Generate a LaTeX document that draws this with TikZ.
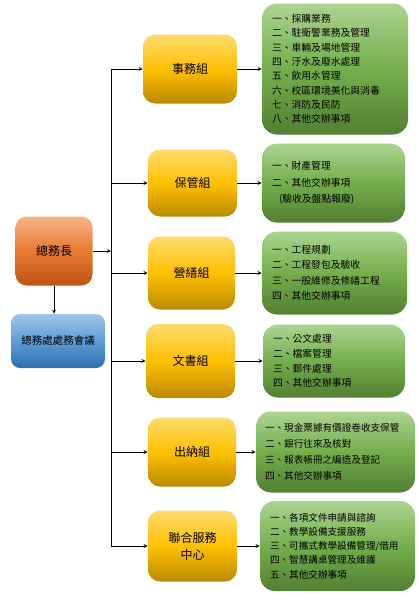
\documentclass[tikz,border=0pt]{standalone}
\usepackage{fontspec}
\setmainfont{Noto Sans CJK TC}
\usepackage{xcolor}
\usepackage{tikz}
\usetikzlibrary{arrows,positioning}

\definecolor{orgTop}{RGB}{246,180,134}
\definecolor{orgMid}{RGB}{232,122,48}
\definecolor{orgBot}{RGB}{190,84,18}
\definecolor{bluTop}{RGB}{160,198,232}
\definecolor{bluMid}{RGB}{94,156,212}
\definecolor{bluBot}{RGB}{44,112,176}
\definecolor{yelTop}{RGB}{255,219,110}
\definecolor{yelMid}{RGB}{255,192,0}
\definecolor{yelBot}{RGB}{186,138,0}
\definecolor{grnTop}{RGB}{172,212,146}
\definecolor{grnMid}{RGB}{116,174,76}
\definecolor{grnBot}{RGB}{82,128,50}

\begin{document}
\begin{tikzpicture}[
    x = 1pt, y = -1pt, % one unit = one pixel of the sheet
    > = stealth, % arrow head style
    line width = 0.8pt % line style
]
\tikzstyle{chiefbox}=[
    rounded corners = 11pt,
    top color = orgTop, bottom color = orgBot, middle color = orgMid,
    minimum width = 77pt, minimum height = 69pt,
    font = \fontsize{12pt}{14pt}\selectfont
]
\tikzstyle{meetbox}=[
    rounded corners = 9pt,
    top color = bluTop, bottom color = bluBot, middle color = bluMid,
    minimum width = 94pt, minimum height = 54pt,
    font = \fontsize{10.5pt}{12pt}\selectfont
]
\tikzstyle{groupbox}=[
    rounded corners = 12pt,
    top color = yelTop, bottom color = yelBot, middle color = yelMid,
    minimum height = 69pt, align = center,
    font = \fontsize{12pt}{17pt}\selectfont
]
\tikzstyle{dutybox}=[
    rounded corners = 15pt,
    top color = grnTop, bottom color = grnBot, middle color = grnMid,
    inner xsep = 10pt, inner ysep = 0pt, align = left,
    font = \fontsize{9.8pt}{15.5pt}\selectfont
]

\useasboundingbox (0,0) rectangle (419,600);

\node[chiefbox] (chief) at (54,251) {總務長};
\node[meetbox] (meet) at (58,341) {總務處處務會議};

% trunk
\coordinate (t0) at (111,251);
\coordinate (t1) at (111,69);
\coordinate (t2) at (111,183);
\coordinate (t3) at (111,273);
\coordinate (t4) at (111,361);
\coordinate (t5) at (111,452);
\coordinate (t6) at (111,546);

\node[groupbox, minimum width=94pt] (g1) at (190,69) {事務組};
\node[groupbox, minimum width=89pt, minimum height=67pt] (g2) at (192.5,183) {保管組};
\node[groupbox, minimum width=87pt, minimum height=73pt] (g3) at (191.5,273) {營繕組};
\node[groupbox, minimum width=89pt, minimum height=74pt] (g4) at (190.5,361) {文書組};
\node[groupbox, minimum width=88pt] (g5) at (192,452) {出納組};
\node[groupbox, minimum width=89pt, minimum height=71pt] (g6) at (192.5,546) {聯合服務\\中心};

\node[dutybox, text width=126pt, minimum height=131pt,
      font=\fontsize{9.8pt}{14.3pt}\selectfont] (d1) at (335,69) {%
一、採購業務\\二、駐衛警業務及管理\\三、車輛及場地管理\\四、汙水及廢水處理\\%
五、飲用水管理\\六、校區環境美化與消毒\\七、消防及民防\\八、其他交辦事項};
\node[dutybox, text width=123pt, minimum height=79pt,
      font=\fontsize{9.8pt}{16.5pt}\selectfont] (d2) at (333.5,183) {%
一、財產管理\\二、其他交辦事項\\\hspace*{7pt}(驗收及盤點報廢)};
\node[dutybox, text width=125pt, minimum height=83pt] (d3) at (334.5,273) {%
一、工程規劃\\二、工程發包及驗收\\三、一般維修及修繕工程\\四、其他交辦事項};
\node[dutybox, text width=122pt, minimum height=73pt,
      font=\fontsize{9.8pt}{14.7pt}\selectfont] (d4) at (334,361) {%
一、公文處理\\二、檔案管理\\三、郵件處理\\四、其他交辦事項};
\node[dutybox, text width=141pt, inner xsep=9pt, minimum height=81pt,
      font=\fontsize{9.6pt}{16pt}\selectfont] (d5) at (335.5,452) {%
一、現金票據有價證卷收支保管\\二、銀行往來及核對\\三、報表帳冊之編造及登記\\四、其他交辦事項};
\node[dutybox, text width=135pt, minimum height=90pt,
      font=\fontsize{9.6pt}{14.2pt}\selectfont] (d6) at (337.5,546) {%
一、各項文件申請與諮詢\\二、教學設備支援服務\\三、可攜式教學設備管理/借用\\四、智慧講桌管理及維護\\五、其他交辦事項};

\path[->] (chief) edge (chief |- meet.north);
\path[->] (chief) edge (t0);
\draw (t1) -- (t6);

\path[->] (t1) edge (g1);
\path[->] (t2) edge (g2);
\path[->] (t3) edge (g3);
\path[->] (t4) edge (g4);
\path[->] (t5) edge (g5);
\path[->] (t6) edge (g6);

\path[->] (g1) edge (d1);
\path[->] (g2) edge (d2);
\path[->] (g3) edge (d3);
\path[->] (g4) edge (d4);
\path[->] (g5) edge (d5);
\path[->] (g6) edge (d6);

\end{tikzpicture}
\end{document}
